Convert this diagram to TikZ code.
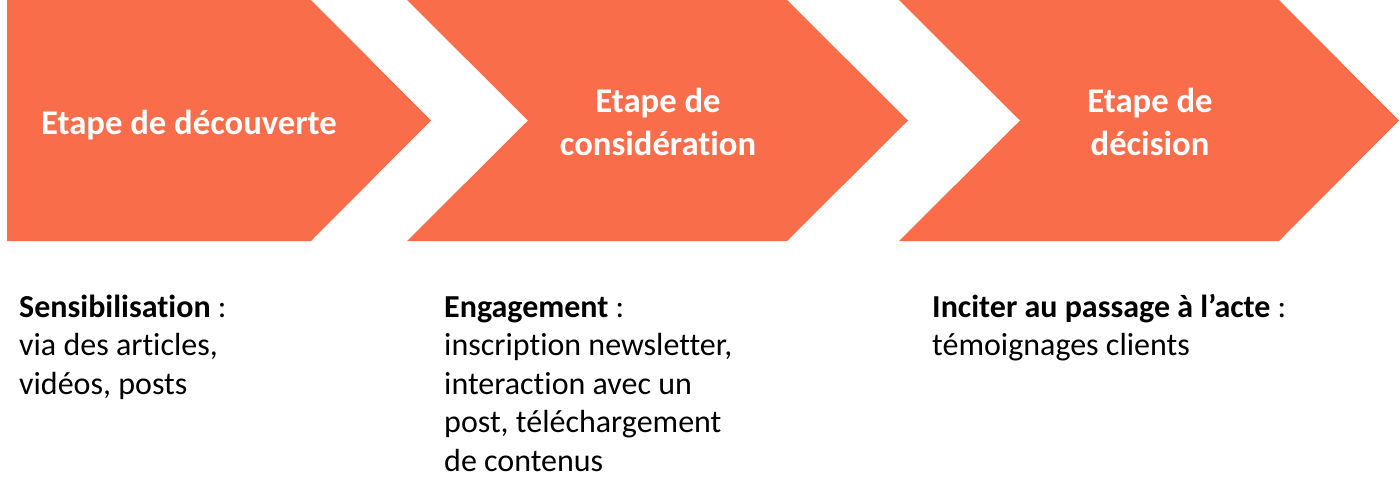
\documentclass[tikz,border=0pt]{standalone}
\usepackage{fontspec}
\setmainfont[Ligatures=NoCommon]{Carlito}
\definecolor{chev}{RGB}{249,109,74}
\begin{document}
\begin{tikzpicture}[x=1pt,y=-1pt,
  chevron/.style={fill=chev,draw=none},
  head/.style={text=white,font=\fontsize{34.67}{43}\selectfont\bfseries,align=center,inner sep=0,anchor=north},
  body/.style={text=black,font=\fontsize{32}{38.5}\selectfont,align=left,inner sep=0,anchor=north west}]
\useasboundingbox (0,0) rectangle (1400,499);
% chevrons
\fill[chevron] (7,0) -- (311,0) -- (431,120.5) -- (311,241) -- (7,241) -- cycle;
\fill[chevron] (407,0) -- (787,0) -- (908,120.5) -- (787,241) -- (407,241) -- (528,120.5) -- cycle;
\fill[chevron] (899,0) -- (1279,0) -- (1399,120.5) -- (1279,241) -- (899,241) -- (1020,120.5) -- cycle;
% headings
\node[head] (h1) at (189,104) {\rule{0pt}{30pt}Etape de découverte};
\node[head] (h2) at (658,82) {\rule{0pt}{30pt}Etape de\\considération};
\node[head] (h3) at (1150,82) {\rule{0pt}{30pt}Etape de\\décision};
% descriptions
\node[body] (b1) at (19,289) {\rule{0pt}{28pt}\textbf{Sensibilisation} :\\via des articles,\\vidéos, posts};
\node[body] (b2) at (444,289) {\rule{0pt}{28pt}\textbf{Engagement} :\\inscription newsletter,\\interaction avec un\\post, téléchargement\\de contenus};
\node[body] (b3) at (932,289) {\rule{0pt}{28pt}\textbf{Inciter au passage à l’acte} :\\témoignages clients};
\end{tikzpicture}
\end{document}
